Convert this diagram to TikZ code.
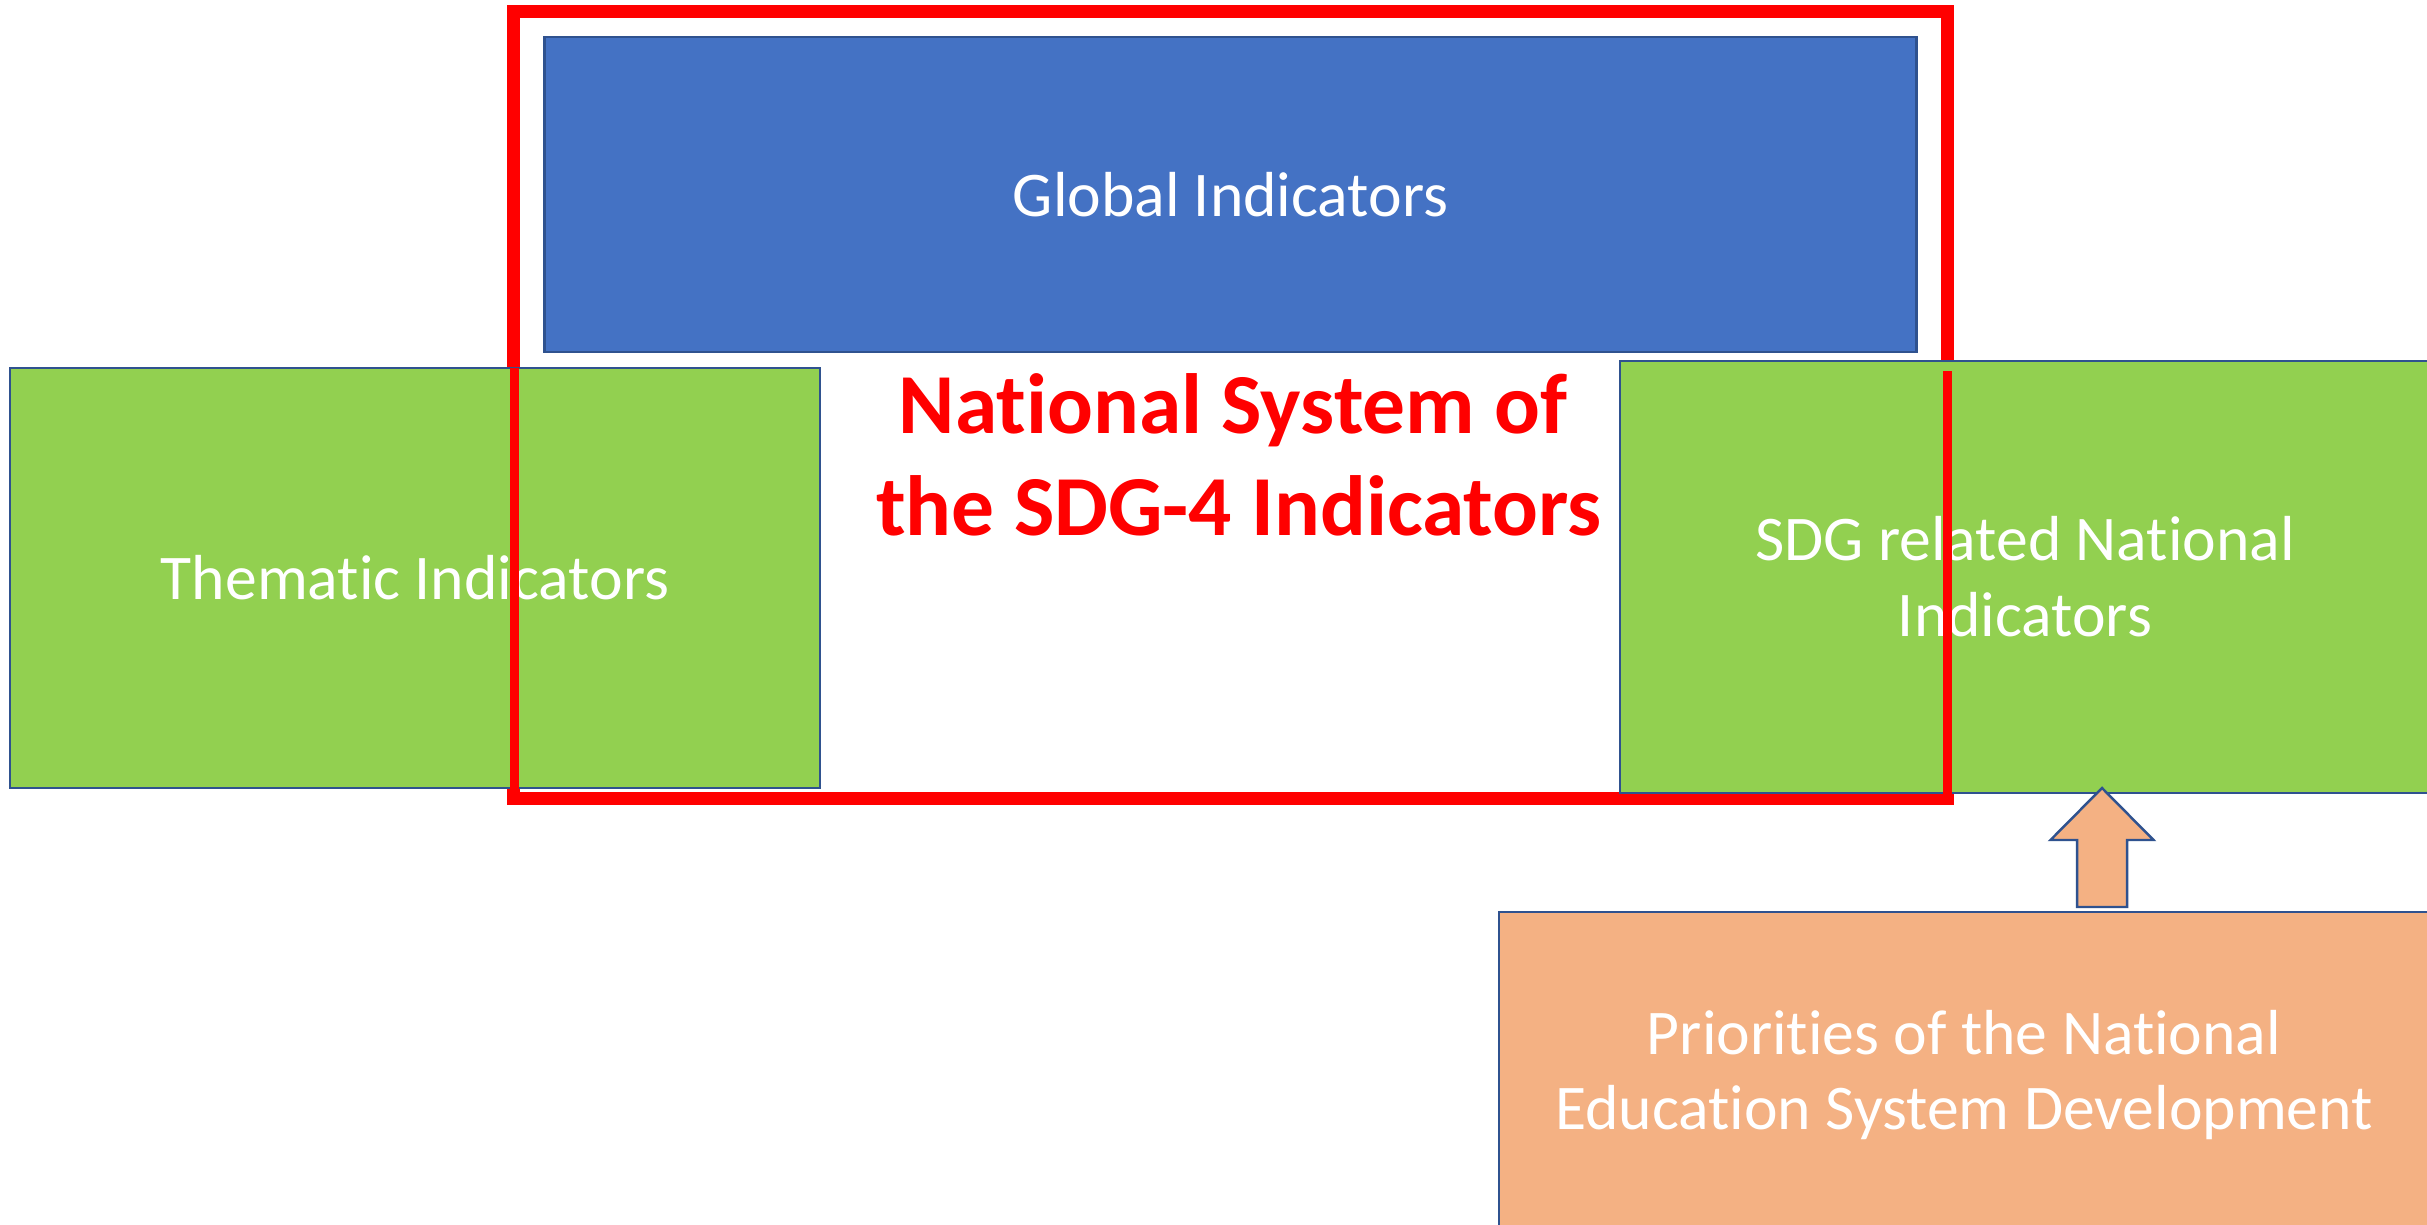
\documentclass[tikz,border=0pt]{standalone}
\usepackage{fontspec}
\setmainfont{Carlito}[RawFeature=-liga]
\usetikzlibrary{calc}
\definecolor{gblue}{HTML}{4472C4}
\definecolor{ggreen}{HTML}{92D050}
\definecolor{gorange}{HTML}{F4B183}
\definecolor{gline}{HTML}{2F528F}
\definecolor{gred}{HTML}{FF0000}
\tikzset{
  box/.style={draw=gline, line width=0.7pt, rectangle, inner sep=0pt, text=white, align=center,
    font=\fontsize{18.1pt}{21.6pt}\selectfont},
  redframe/.style={draw=gred, line width=3.7pt},
  redover/.style={draw=gred, line width=2.3pt},
  title/.style={text=gred, anchor=base, inner sep=0pt, font=\fontsize{24.3pt}{29pt}\selectfont\bfseries},
  uparrow/.style={draw=gline, line width=0.7pt, fill=gorange, line join=miter}
}
\begin{document}
\begin{tikzpicture}[x=0.01cm, y=-0.01cm]
\useasboundingbox (0,0) rectangle (2427,1224);
\clip (0,0) rectangle (2427,1224);
\fill[white] (0,0) rectangle (2427,1224);

% global indicators
\node[box, fill=gblue, minimum width=13.71cm, minimum height=3.15cm] (glob) at (1230.5,194.5) {Global Indicators};

% red frame
\coordinate (rtl) at (513,11.5);
\coordinate (rbr) at (1947,798);
\draw[redframe] (rtl) rectangle (rbr);

% green boxes
\node[box, fill=ggreen, minimum width=8.10cm, minimum height=4.20cm] (them) at (415,578) {Thematic Indicators};
\node[box, fill=ggreen, minimum width=8.10cm, minimum height=4.32cm] (sdgn) at (2025,577) {SDG related National\\Indicators};

% red segments over the green boxes
\coordinate (la) at (514.5,368);
\coordinate (lb) at (514.5,795);
\coordinate (ra) at (1947.5,371);
\coordinate (rb) at (1947.5,795);
\draw[redover] (la) -- (lb);
\draw[redover] (ra) -- (rb);

% title
\node[title] (t1) at (1233,433) {National System of};
\node[title] (t2) at (1239,535) {the SDG-4 Indicators};

% priorities
\node[box, fill=gorange, minimum width=9.30cm, minimum height=3.26cm] (prio) at (1964,1075) {Priorities of the National\\Education System Development};

% block arrow from priorities to SDG related
\coordinate (tip) at (2102,788);
\coordinate (tail) at (2102,907);
\draw[uparrow] (tip) -- ($(tip)+(51.5,52)$) -- ($(tip)+(25,52)$) -- ($(tail)+(25,0)$)
  -- ($(tail)+(-25,0)$) -- ($(tip)+(-25,52)$) -- ($(tip)+(-51.5,52)$) -- cycle;
\end{tikzpicture}
\end{document}
